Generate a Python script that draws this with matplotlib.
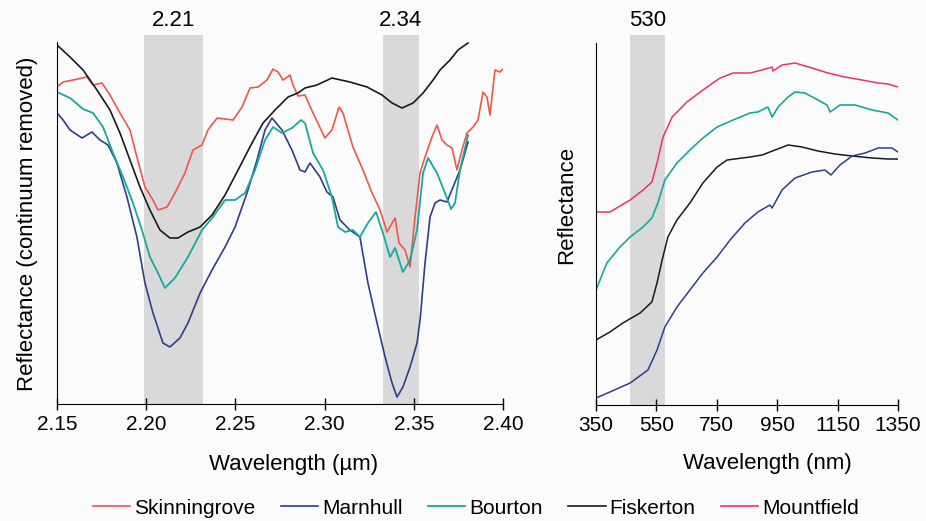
import matplotlib
matplotlib.use('Agg')
import matplotlib.pyplot as plt

plt.rcParams['font.family'] = ['Liberation Sans', 'DejaVu Sans']
plt.rcParams['lines.solid_joinstyle'] = 'round'

# Panel izquierdo: reflectancia con continuo removido (SWIR, µm)
wl_skin = [2.1500, 2.1534, 2.1590, 2.1668, 2.1702, 2.1752, 2.1797, 2.1853, 2.1909, 2.1948,
           2.1993, 2.2038, 2.2066, 2.2117, 2.2161, 2.2217, 2.2262, 2.2313, 2.2346, 2.2397,
           2.2442, 2.2487, 2.2537, 2.2582, 2.2627, 2.2677, 2.2711, 2.2739, 2.2767, 2.2806,
           2.2823, 2.2851, 2.2890, 2.2935, 2.3002, 2.3041, 2.3081, 2.3103, 2.3159, 2.3215,
           2.3266, 2.3311, 2.3350, 2.3395, 2.3417, 2.3451, 2.3479, 2.3507, 2.3535, 2.3563,
           2.3602, 2.3630, 2.3658, 2.3686, 2.3714, 2.3742, 2.3770, 2.3798, 2.3832, 2.3860,
           2.3888, 2.3910, 2.3927, 2.3955, 2.3983, 2.4000]
refl_skin = [3.17, 3.22, 3.24, 3.27, 3.19, 3.21, 3.09, 2.91, 2.74, 2.47,
             2.17, 2.04, 1.94, 1.97, 2.11, 2.31, 2.54, 2.59, 2.74, 2.86,
             2.85, 2.84, 2.97, 3.16, 3.17, 3.24, 3.35, 3.32, 3.24, 3.29,
             3.19, 3.08, 3.09, 2.91, 2.66, 2.74, 2.97, 2.91, 2.57, 2.34,
             2.11, 1.94, 1.72, 1.86, 1.61, 1.54, 1.37, 1.87, 2.31, 2.47,
             2.67, 2.79, 2.64, 2.59, 2.56, 2.34, 2.54, 2.71, 2.77, 2.84,
             3.12, 3.07, 2.89, 3.34, 3.32, 3.35]

wl_marn = [2.1500, 2.1534, 2.1573, 2.1640, 2.1696, 2.1741, 2.1786, 2.1836, 2.1892, 2.1948,
           2.1993, 2.2038, 2.2094, 2.2133, 2.2189, 2.2234, 2.2302, 2.2369, 2.2442, 2.2498,
           2.2565, 2.2621, 2.2666, 2.2705, 2.2761, 2.2817, 2.2862, 2.2890, 2.2918, 2.2974,
           2.3013, 2.3047, 2.3086, 2.3142, 2.3198, 2.3243, 2.3294, 2.3339, 2.3378, 2.3406,
           2.3439, 2.3479, 2.3518, 2.3535, 2.3563, 2.3591, 2.3619, 2.3647, 2.3686, 2.3720,
           2.3759, 2.3804]
refl_marn = [2.91, 2.84, 2.74, 2.66, 2.72, 2.64, 2.59, 2.41, 2.07, 1.67,
             1.21, 0.91, 0.61, 0.57, 0.66, 0.81, 1.11, 1.34, 1.57, 1.77,
             2.11, 2.44, 2.74, 2.86, 2.74, 2.54, 2.34, 2.32, 2.41, 2.27,
             2.12, 2.07, 1.84, 1.74, 1.67, 1.21, 0.81, 0.47, 0.21, 0.07,
             0.17, 0.37, 0.61, 0.84, 1.41, 1.87, 2.01, 2.04, 2.02, 2.17,
             2.34, 2.62]

wl_bour = [2.1500, 2.1573, 2.1646, 2.1702, 2.1758, 2.1814, 2.1870, 2.1926, 2.1976, 2.2021,
           2.2066, 2.2105, 2.2161, 2.2234, 2.2313, 2.2374, 2.2442, 2.2498, 2.2554, 2.2610,
           2.2666, 2.2711, 2.2761, 2.2817, 2.2868, 2.2890, 2.2935, 2.2991, 2.3041, 2.3075,
           2.3114, 2.3159, 2.3198, 2.3243, 2.3288, 2.3327, 2.3367, 2.3395, 2.3439, 2.3479,
           2.3518, 2.3552, 2.3580, 2.3630, 2.3675, 2.3709, 2.3731, 2.3759, 2.3804]
refl_bour = [3.12, 3.06, 2.95, 2.91, 2.77, 2.51, 2.27, 2.01, 1.74, 1.47,
             1.31, 1.16, 1.26, 1.47, 1.74, 1.87, 2.04, 2.04, 2.11, 2.34,
             2.64, 2.77, 2.71, 2.76, 2.84, 2.81, 2.51, 2.34, 2.07, 1.77,
             1.72, 1.74, 1.67, 1.81, 1.92, 1.71, 1.47, 1.56, 1.32, 1.44,
             1.74, 2.31, 2.46, 2.31, 2.11, 1.95, 2.01, 2.34, 2.69]

wl_fisk = [2.1500, 2.1573, 2.1646, 2.1724, 2.1797, 2.1853, 2.1909, 2.1965, 2.2021, 2.2077,
           2.2133, 2.2178, 2.2234, 2.2302, 2.2369, 2.2442, 2.2515, 2.2593, 2.2655, 2.2722,
           2.2795, 2.2851, 2.2890, 2.2957, 2.3041, 2.3142, 2.3238, 2.3322, 2.3378, 2.3434,
           2.3496, 2.3552, 2.3608, 2.3647, 2.3703, 2.3748, 2.3804]
refl_fisk = [3.59, 3.47, 3.34, 3.14, 2.94, 2.71, 2.44, 2.17, 1.94, 1.74,
             1.66, 1.66, 1.72, 1.77, 1.89, 2.09, 2.34, 2.61, 2.81, 2.94,
             3.07, 3.11, 3.16, 3.19, 3.26, 3.22, 3.17, 3.09, 3.01, 2.96,
             3.01, 3.11, 3.24, 3.34, 3.44, 3.54, 3.61]

# Panel derecho: reflectancia VNIR (nm)
nm_mount = [350, 396, 463, 506, 535, 552, 572, 602, 651, 704, 761, 804, 860, 900,
            933, 936, 966, 1009, 1065, 1118, 1174, 1231, 1284, 1317, 1350]
r_mount = [1.93, 1.93, 2.05, 2.15, 2.23, 2.42, 2.68, 2.88, 3.03, 3.15, 3.27, 3.32, 3.32, 3.35,
           3.38, 3.34, 3.40, 3.42, 3.37, 3.32, 3.28, 3.25, 3.22, 3.21, 3.18]

nm_bour = [350, 386, 429, 463, 506, 535, 555, 578, 618, 661, 704, 751, 804, 860, 886,
           919, 933, 953, 986, 1009, 1042, 1085, 1115, 1125, 1158, 1208, 1264, 1317, 1350]
r_bour = [1.15, 1.42, 1.58, 1.68, 1.78, 1.87, 2.02, 2.25, 2.42, 2.55, 2.67, 2.78, 2.85, 2.92, 2.93,
          2.98, 2.88, 2.98, 3.08, 3.13, 3.12, 3.05, 3.00, 2.93, 3.00, 3.00, 2.95, 2.92, 2.85]

nm_fisk = [350, 396, 439, 496, 535, 552, 569, 588, 618, 661, 704, 751, 784, 860, 900,
           943, 986, 1032, 1085, 1141, 1198, 1264, 1317, 1350]
r_fisk = [0.65, 0.73, 0.82, 0.92, 1.03, 1.22, 1.45, 1.68, 1.85, 2.02, 2.22, 2.38, 2.45, 2.48, 2.50,
          2.55, 2.60, 2.58, 2.54, 2.51, 2.49, 2.47, 2.46, 2.46]

nm_marn = [350, 396, 463, 522, 552, 578, 618, 661, 704, 751, 794, 843, 886, 926, 933,
           966, 1009, 1065, 1108, 1128, 1158, 1198, 1241, 1284, 1330, 1350]
r_marn = [0.07, 0.13, 0.22, 0.35, 0.55, 0.78, 0.98, 1.15, 1.32, 1.48, 1.65, 1.82, 1.93, 2.00, 1.97,
          2.15, 2.27, 2.33, 2.35, 2.30, 2.40, 2.49, 2.52, 2.57, 2.57, 2.53]

ticks_um = [2.15, 2.20, 2.25, 2.30, 2.35, 2.40]
ticks_nm = [350, 550, 750, 950, 1150, 1350]

# Bandas de absorcion (inicio, fin, etiqueta)
bandas_um = [(2.199, 2.232, '2.21'), (2.3327, 2.3529, '2.34')]
bandas_nm = [(463, 578, '530')]

c_skin = '#f0564b'
c_marn = '#2f3d8a'
c_bour = '#15a89e'
c_fisk = '#1a1a1a'
c_mount = '#f0306e'
gris = '#d9d9d9'

fig = plt.figure(figsize=(9.26, 5.21), dpi=100, facecolor='#fbfbfb')
ax1 = fig.add_axes([57/926, 117/521, 446/926, 369/521])
ax2 = fig.add_axes([596/926, 116/521, 302/926, 370/521])

for ax in (ax1, ax2):
    ax.set_facecolor('none')
    ax.spines['top'].set_visible(False)
    ax.spines['right'].set_visible(False)
    ax.spines['left'].set_bounds(0, 3.62)
    ax.set_yticks([])
    ax.tick_params(axis='x', direction='inout', length=8, width=1, labelsize=15, pad=4)

for a, b, txt in bandas_um:
    ax1.axvspan(a, b, color=gris, lw=0, zorder=0)
    ax1.text((a + b) / 2, 1.038, txt, transform=ax1.get_xaxis_transform(),
             ha='center', va='center', fontsize=16)
for a, b, txt in bandas_nm:
    ax2.axvspan(a, b, color=gris, lw=0, zorder=0)
    ax2.text((a + b) / 2, 1.038, txt, transform=ax2.get_xaxis_transform(),
             ha='center', va='center', fontsize=16)

l1, = ax1.plot(wl_skin, refl_skin, color=c_skin, lw=1.2)
l2, = ax1.plot(wl_marn, refl_marn, color=c_marn, lw=1.2)
l3, = ax1.plot(wl_bour, refl_bour, color=c_bour, lw=1.3)
l4, = ax1.plot(wl_fisk, refl_fisk, color=c_fisk, lw=1.2)

ax2.plot(nm_mount, r_mount, color=c_mount, lw=1.1)
ax2.plot(nm_bour, r_bour, color=c_bour, lw=1.2)
ax2.plot(nm_fisk, r_fisk, color=c_fisk, lw=1.1)
ax2.plot(nm_marn, r_marn, color=c_marn, lw=1.1)
l5, = ax2.plot([], [], color=c_mount, lw=1.2)

ax1.set_xlim(2.15, 2.40)
ax1.set_ylim(0, 3.69)
ax1.set_xticks(ticks_um)
ax1.set_xticklabels([f'{t:.2f}' for t in ticks_um])
ax1.set_xlabel('Wavelength (µm)', fontsize=16, va='center')
ax1.xaxis.set_label_coords(0.531, -0.163)
ax1.set_ylabel('Reflectance (continuum removed)', fontsize=16, va='center')
ax1.yaxis.set_label_coords(-0.067, 0.488)

ax2.set_xlim(350, 1350)
ax2.set_ylim(0, 3.70)
ax2.set_xticks(ticks_nm)
ax2.set_xlabel('Wavelength (nm)', fontsize=16, va='center')
ax2.xaxis.set_label_coords(0.566, -0.159)
ax2.set_ylabel('Reflectance', fontsize=16, va='center')
ax2.yaxis.set_label_coords(-0.096, 0.541)

fig.legend([l1, l2, l3, l4, l5],
           ['Skinningrove', 'Marnhull', 'Bourton', 'Fiskerton', 'Mountfield'],
           loc='center', bbox_to_anchor=(476/926, 1 - 508/521), ncol=5, frameon=False,
           fontsize=15, handlelength=1.8, handletextpad=0.2, columnspacing=1.2)

fig.savefig('out.png', dpi=100, facecolor=fig.get_facecolor())
